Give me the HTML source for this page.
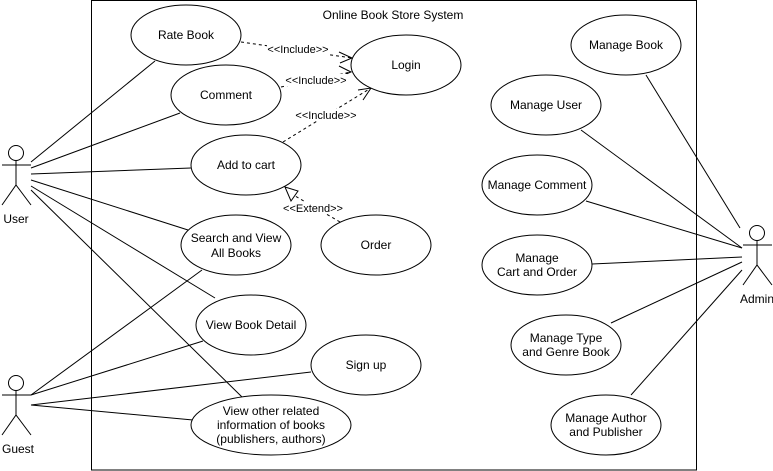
<!DOCTYPE html>
<html><head><meta charset="utf-8"><style>html,body{margin:0;padding:0;background:#fff}svg{display:block}</style></head><body>
<svg width="773" height="471" xmlns="http://www.w3.org/2000/svg" font-family="Liberation Sans, sans-serif" font-size="12">
<rect x="91.5" y="0.5" width="605" height="469.5" fill="#fff" stroke="#000"/>
<text x="393" y="19" text-anchor="middle">Online Book Store System</text>
<g stroke="#000" fill="none">
<!-- user lines -->
<line x1="31" y1="162" x2="155" y2="61"/>
<line x1="31" y1="168" x2="180" y2="113"/>
<line x1="31" y1="174" x2="191" y2="168"/>
<line x1="31" y1="180" x2="188" y2="230"/>
<line x1="31" y1="186" x2="215" y2="298"/>
<line x1="31" y1="190" x2="242" y2="397"/>
<!-- guest -->
<line x1="31" y1="395" x2="202" y2="270"/>
<line x1="31" y1="395" x2="203" y2="341"/>
<line x1="31" y1="405" x2="311" y2="372"/>
<line x1="31" y1="405" x2="193" y2="420"/>
<!-- admin -->
<line x1="740" y1="228" x2="646" y2="75"/>
<line x1="742" y1="248" x2="581" y2="130"/>
<line x1="742" y1="248" x2="586" y2="201"/>
<line x1="742" y1="257" x2="592" y2="264"/>
<line x1="742" y1="262" x2="611" y2="323"/>
<line x1="742" y1="270" x2="631" y2="395"/>
<!-- dashed -->
<g stroke-dasharray="3,3">
<line x1="241" y1="42" x2="352" y2="58"/>
<line x1="281" y1="87" x2="351" y2="72"/>
<line x1="283" y1="142" x2="371" y2="88"/>
<line x1="340" y1="222" x2="290" y2="193"/>
</g>
<polyline points="339,52 352,58 340,63"/>
<polyline points="339,66 351,72 339,77"/>
<polyline points="358,90 371,88 363,100"/>
<polygon points="285,187 298,191 291,201" fill="#fff"/>
</g>
<g font-size="11" text-anchor="middle">
<rect x="267" y="43" width="62" height="12" fill="#fff"/><text x="298" y="53">&lt;&lt;Include&gt;&gt;</text>
<rect x="285" y="74" width="62" height="12" fill="#fff"/><text x="316" y="84">&lt;&lt;Include&gt;&gt;</text>
<rect x="295" y="109" width="62" height="12" fill="#fff"/><text x="326" y="119">&lt;&lt;Include&gt;&gt;</text>
<rect x="283" y="202" width="60" height="12" fill="#fff"/><text x="313" y="212">&lt;&lt;Extend&gt;&gt;</text>
</g>
<g stroke="#000" fill="#fff">
<ellipse cx="186" cy="35" rx="55" ry="30"/>
<ellipse cx="406" cy="65" rx="55" ry="30"/>
<ellipse cx="226" cy="95" rx="55" ry="30"/>
<ellipse cx="246" cy="165" rx="55" ry="30"/>
<ellipse cx="236" cy="245" rx="55" ry="30"/>
<ellipse cx="376" cy="245" rx="55" ry="30"/>
<ellipse cx="251" cy="325" rx="55" ry="30"/>
<ellipse cx="366" cy="365" rx="55" ry="30"/>
<ellipse cx="271" cy="425" rx="80" ry="30"/>
<ellipse cx="626" cy="45" rx="55" ry="30"/>
<ellipse cx="546" cy="105" rx="55" ry="30"/>
<ellipse cx="537" cy="185" rx="55" ry="30"/>
<ellipse cx="537" cy="265" rx="55" ry="30"/>
<ellipse cx="566" cy="345" rx="55" ry="30"/>
<ellipse cx="606" cy="425" rx="55" ry="30"/>
</g>
<g text-anchor="middle">
<text x="186" y="39">Rate Book</text>
<text x="406" y="69">Login</text>
<text x="226" y="99">Comment</text>
<text x="246" y="169">Add to cart</text>
<text x="236" y="242">Search and View</text><text x="236" y="257">All Books</text>
<text x="376" y="249">Order</text>
<text x="251" y="329">View Book Detail</text>
<text x="366" y="369">Sign up</text>
<text x="271" y="415">View other related</text><text x="271" y="429">information of books</text><text x="271" y="443">(publishers, authors)</text>
<text x="626" y="49">Manage Book</text>
<text x="546" y="109">Manage User</text>
<text x="537" y="189">Manage Comment</text>
<text x="537" y="262">Manage</text><text x="537" y="276">Cart and Order</text>
<text x="566" y="342">Manage Type</text><text x="566" y="356">and Genre Book</text>
<text x="606" y="422">Manage Author</text><text x="606" y="436">and Publisher</text>
</g>
<g stroke="#000" fill="#fff">
<circle cx="16" cy="153" r="7.5"/><line x1="16" y1="160.5" x2="16" y2="185" /><line x1="2" y1="165" x2="31" y2="165"/><polyline points="2,205 16,185 31,205" fill="none"/>
<circle cx="16" cy="383" r="7.5"/><line x1="16" y1="390.5" x2="16" y2="415"/><line x1="2" y1="395" x2="31" y2="395"/><polyline points="2,435 16,415 31,435" fill="none"/>
<circle cx="757" cy="233" r="7.5"/><line x1="757" y1="240.5" x2="757" y2="265"/><line x1="743" y1="245" x2="772" y2="245"/><polyline points="743,285 757,265 772,285" fill="none"/>
</g>
<g text-anchor="middle">
<text x="16" y="223">User</text>
<text x="18" y="453">Guest</text>
<text x="757" y="303">Admin</text>
</g>
</svg>
</body></html>
